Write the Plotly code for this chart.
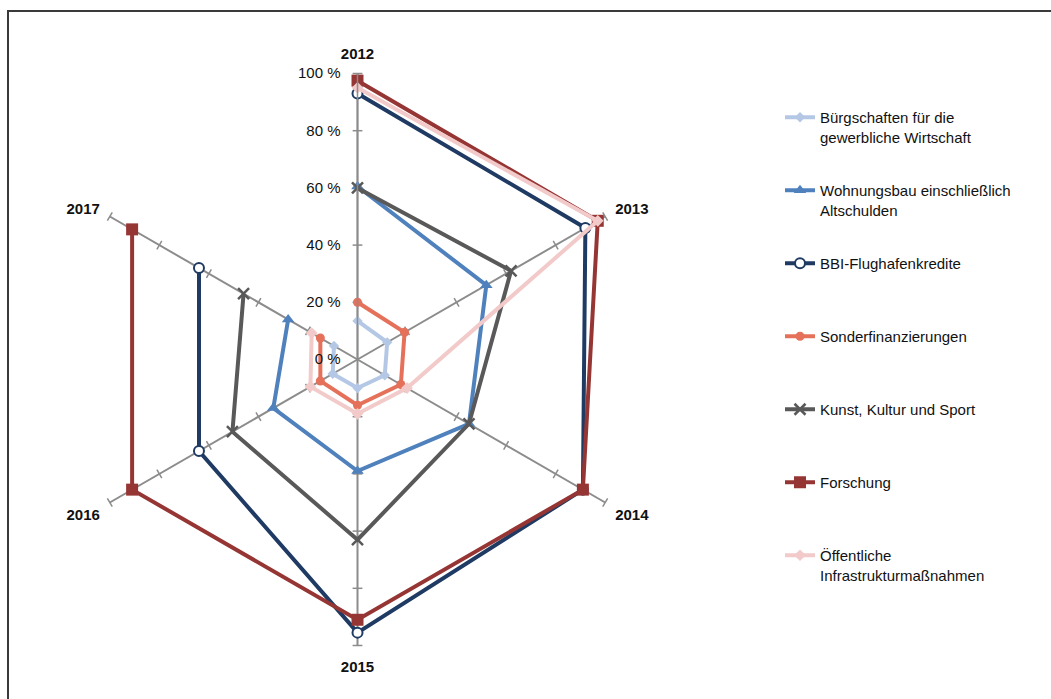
import plotly.graph_objects as go

years = ['2012', '2013', '2014', '2015', '2016', '2017']
series_names = [
    'Bürgschaften für die<br>gewerbliche Wirtschaft',
    'Wohnungsbau einschließlich<br>Altschulden',
    'BBI-Flughafenkredite',
    'Sonderfinanzierungen',
    'Kunst, Kultur und Sport',
    'Forschung',
    'Öffentliche<br>Infrastrukturmaßnahmen',
]
buergschaften = [13.5, 12, 11, 10, 10, 9.5]
wohnungsbau = [60.5, 52, 45, 39, 34, 28]
bbi = [93, 92, 91, 95.5, 64, 64]
sonder = [20, 19, 17.5, 16, 15, 15]
kunst = [60, 62, 45, 63, 50.5, 46]
forschung = [97.5, 97, 91, 91, 91, 91]
oeffentlich = [95, 97, 20, 19, 19, 18.5]
tick_values = [0, 20, 40, 60, 80, 100]
tick_labels = ['0 %', '20 %', '40 %', '60 %', '80 %', '100 %']

values = [buergschaften, wohnungsbau, bbi, sonder, kunst, forschung, oeffentlich]
colors = ['#B4C8E6', '#4F81BD', '#1F3B63', '#E5715A', '#595959', '#963634', '#F3CACA']
markers = [
    dict(symbol='diamond', size=8),
    dict(symbol='triangle-up', size=11),
    dict(symbol='circle', size=10, color='white', line=dict(width=2)),
    dict(symbol='circle', size=9),
    dict(symbol='x-thin', size=11, line=dict(width=2.5)),
    dict(symbol='square', size=12),
    dict(symbol='diamond', size=9),
]

FONT = 'Liberation Sans, Arial, sans-serif'
fig = go.Figure()

# tick marks on every spoke (drawn below the series)
tk_r, tk_t, tk_a = [], [], []
for i, y in enumerate(years):
    for v in tick_values[1:]:
        tk_r.append(v)
        tk_t.append(y)
        tk_a.append(60 * i)
fig.add_trace(go.Scatterpolar(
    r=tk_r, theta=tk_t, mode='markers', showlegend=False, hoverinfo='skip',
    marker=dict(symbol='line-ew', size=7, angle=tk_a,
                line=dict(color='#8C8C8C', width=1.5)),
))

for name, vals, col, mk in zip(series_names, values, colors, markers):
    label = name if '<br>' in name else name + '<br> '
    m = dict(mk)
    if 'color' not in m:
        m['color'] = col
    ln = dict(m.get('line', {}))
    ln['color'] = col
    m['line'] = ln
    fig.add_trace(go.Scatterpolar(
        r=vals, theta=years, mode='lines+markers',
        name=label, legendgroup=name,
        line=dict(color=col, width=4),
        marker=m,
    ))

W, H = 1051, 699
cx, cy, R = 357.5, 359.5, 286
fig.update_layout(
    width=W, height=H,
    margin=dict(l=0, r=0, t=0, b=0),
    paper_bgcolor='white',
    font=dict(family=FONT, size=15, color='#111111'),
    polar=dict(
        domain=dict(x=[(cx - R) / W, (cx + R) / W], y=[1 - (cy + R) / H, 1 - (cy - R) / H]),
        bgcolor='white',
        gridshape='linear',
        radialaxis=dict(
            range=[0, 100], tickvals=tick_values, ticktext=tick_labels,
            angle=90, side='counterclockwise', tickangle=90, showgrid=False,
            showline=True, linecolor='#8C8C8C', linewidth=1.5,
            ticks='outside', ticklen=11, tickcolor='rgba(0,0,0,0)', tickwidth=1.5,
            tickfont=dict(family=FONT, size=15, color='#111111'),
        ),
        angularaxis=dict(
            direction='clockwise', rotation=90,
            categoryorder='array', categoryarray=years,
            showgrid=True, gridcolor='#8C8C8C', gridwidth=1.5,
            showline=False, ticks='outside', ticklen=8, tickcolor='rgba(0,0,0,0)',
            tickfont=dict(family=FONT, size=15, color='#111111', weight='bold'),
        ),
    ),
    legend=dict(
        x=780 / W, xanchor='left', y=1 - 101 / H, yanchor='top',
        traceorder='grouped', tracegroupgap=31, valign='top',
        font=dict(family=FONT, size=15, color='#111111'),
        bgcolor='rgba(0,0,0,0)',
    ),
    shapes=[dict(type='rect', xref='paper', yref='paper',
                 x0=8 / W, x1=1.02, y0=-0.02, y1=1 - 11 / H,
                 line=dict(color='#3A3A3A', width=2))],
)

fig.write_html('out.html')
